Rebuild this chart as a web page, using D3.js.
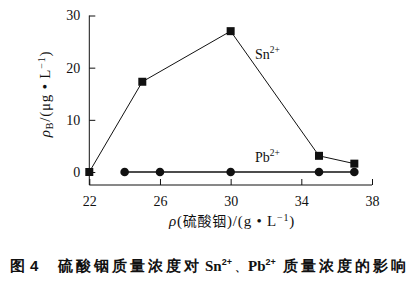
<!DOCTYPE html>
<html><head><meta charset="utf-8">
<script src="https://cdn.jsdelivr.net/npm/d3@7"></script>
<style>
body{margin:0;background:#fff;}
svg{display:block;}
text{font-family:"Liberation Serif","Times New Roman",serif;fill:#111;}
</style></head><body>
<svg id="c" width="420" height="282"></svg>
<script>
const snX = [22, 25, 30, 35, 37];
const snY = [0, 17.3, 27, 3.1, 1.6];
const pbX = [24, 26, 30, 35, 37];
const pbY = [0, 0, 0, 0, 0];
const xTicks = [22, 26, 30, 34, 38];
const yTicks = [0, 10, 20, 30];

const svg = d3.select("#c");
const x = d3.scaleLinear().domain([22, 38]).range([89.3, 372]);
const y = d3.scaleLinear().domain([0, 30]).range([172, 15.5]);
const axisY0 = 185;

// x axis
const gx = svg.append("g").attr("transform", `translate(0,${axisY0})`)
  .call(d3.axisBottom(x).tickValues(xTicks).tickSizeInner(-6).tickSizeOuter(0).tickPadding(11));
gx.select(".domain").remove();
gx.selectAll("line").attr("stroke", "#111").attr("stroke-width", 1);
gx.selectAll("text").attr("font-size", 14).attr("font-family", "Liberation Serif").attr("fill", "#111");

// y axis
const gy = svg.append("g").attr("transform", `translate(${x(22)},0)`)
  .call(d3.axisLeft(y).tickValues(yTicks).tickSizeInner(-6).tickSizeOuter(0).tickPadding(9));
gy.select(".domain").remove();
gy.selectAll("line").attr("stroke", "#111").attr("stroke-width", 1);
gy.selectAll("text").attr("font-size", 14).attr("font-family", "Liberation Serif").attr("fill", "#111");

// axis lines
svg.append("line").attr("x1", x(22)).attr("x2", x(38)).attr("y1", axisY0).attr("y2", axisY0)
  .attr("stroke", "#111").attr("stroke-width", 1);
svg.append("line").attr("x1", x(22)).attr("x2", x(22)).attr("y1", y(30)).attr("y2", axisY0)
  .attr("stroke", "#111").attr("stroke-width", 1);

const line = d3.line().x(d => x(d[0])).y(d => y(d[1]));
const sn = snX.map((v, i) => [v, snY[i]]);
const pb = pbX.map((v, i) => [v, pbY[i]]);

svg.append("path").attr("d", line(pb)).attr("fill", "none").attr("stroke", "#111").attr("stroke-width", 1.3);
svg.append("path").attr("d", line(sn)).attr("fill", "none").attr("stroke", "#111").attr("stroke-width", 1);

svg.selectAll("circle.pb").data(pb).enter().append("circle")
  .attr("cx", d => x(d[0])).attr("cy", d => y(d[1])).attr("r", 4.3).attr("fill", "#111");
svg.selectAll("rect.sn").data(sn).enter().append("rect")
  .attr("x", d => x(d[0]) - 4).attr("y", d => y(d[1]) - 4).attr("width", 8).attr("height", 8).attr("fill", "#111");

// series labels
const snT = svg.append("text").attr("x", 255).attr("y", 59).attr("font-size", 14);
snT.append("tspan").text("Sn");
snT.append("tspan").attr("dy", -6).attr("font-size", 9.5).text("2+");
const pbT = svg.append("text").attr("x", 255).attr("y", 162).attr("font-size", 14);
pbT.append("tspan").text("Pb");
pbT.append("tspan").attr("dy", -6).attr("font-size", 9.5).text("2+");

// y label
const yl = svg.append("text").attr("transform", "translate(50,94) rotate(-90)")
  .attr("text-anchor", "middle").attr("font-size", 15).attr("letter-spacing", 0.8);
yl.append("tspan").attr("font-style", "italic").text("ρ");
yl.append("tspan").attr("dy", 3).attr("font-size", 10).text("B");
yl.append("tspan").attr("dy", -3).text("/(μg • L");
yl.append("tspan").attr("dy", -5).attr("font-size", 10).text("−1");
yl.append("tspan").attr("dy", 5).text(")");

// x label
const xl = svg.append("text").attr("x", 232).attr("y", 226).attr("text-anchor", "middle")
  .attr("font-size", 15).attr("letter-spacing", 0.8);
xl.append("tspan").attr("font-style", "italic").text("ρ");
xl.append("tspan").text("(");
xl.append("tspan").attr("font-family", "Noto Sans CJK SC").attr("font-size", 14).text("硫酸铟");
xl.append("tspan").text(")/(g • L");
xl.append("tspan").attr("dy", -5).attr("font-size", 10).text("−1");
xl.append("tspan").attr("dy", 5).text(")");

// caption
const cap = svg.append("text").attr("y", 271).attr("font-size", 15)
  .attr("font-weight", "bold").attr("font-family", "Noto Sans CJK SC");
cap.append("tspan").attr("x", 10).text("图");
cap.append("tspan").attr("x", 30).attr("font-family", "Liberation Sans").text("4");
cap.append("tspan").attr("x", 58).attr("letter-spacing", 3).text("硫酸铟质量浓度对");
cap.append("tspan").attr("x", 205).attr("font-family", "Liberation Serif").text("Sn");
cap.append("tspan").attr("dy", -6).attr("font-size", 9).attr("font-family", "Liberation Sans").text("2+");
cap.append("tspan").attr("x", 235).attr("dy", 6).attr("font-size", 11).text("、");
cap.append("tspan").attr("x", 248).attr("font-family", "Liberation Serif").text("Pb");
cap.append("tspan").attr("dy", -6).attr("font-size", 9).attr("font-family", "Liberation Sans").text("2+");
cap.append("tspan").attr("x", 283).attr("dy", 6).attr("letter-spacing", 3).text("质量浓度的影响");
</script>
</body></html>
